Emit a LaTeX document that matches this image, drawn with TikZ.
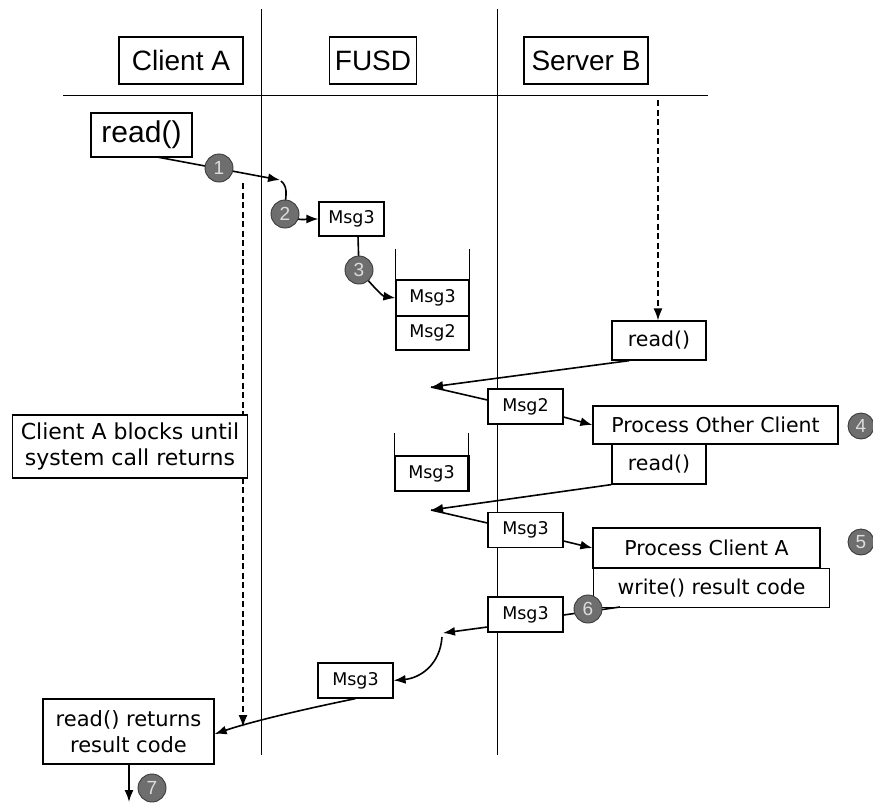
\documentclass[tikz,border=0pt]{standalone}
\usepackage{fontspec}
\setmainfont{DejaVu Sans}
\newfontfamily\hdfont{Liberation Sans}
\usetikzlibrary{arrows.meta,calc}
\definecolor{bubfill}{HTML}{6E6E6E}
\definecolor{bubline}{HTML}{3A3A3A}
\definecolor{bubtext}{HTML}{DDDDDD}
\begin{document}
\begin{tikzpicture}[x=1pt,y=-1pt,
  box/.style={draw, line width=1.2pt, fill=white, inner sep=0pt, align=center},
  hdbox/.style={box, font=\hdfont\fontsize{28}{30}\selectfont},
  lbox/.style={box, font=\fontsize{20.5}{25}\selectfont},
  mbox/.style={box, minimum width=75, minimum height=35, font=\fontsize{17.5}{20}\selectfont},
  bub/.style={circle, fill=bubfill, draw=bubline, line width=0.9pt, minimum size=28, inner sep=0pt,
              text=bubtext, font=\hdfont\fontsize{19}{19}\selectfont},
  conn/.style={line width=1.6pt},
  arr/.style={conn, -{Latex[length=12pt,width=9pt]}},
  darr/.style={line width=1.6pt, dash pattern=on 6pt off 3.5pt, -{Latex[length=12pt,width=9pt]}},
  life/.style={line width=0.9pt}]
\useasboundingbox (0,0) rectangle (873,804);

% lifelines and header line
\coordinate (l1t) at (261,9);  \coordinate (l1b) at (261,755);
\coordinate (l2t) at (497,9);  \coordinate (l2b) at (497,755);
\coordinate (hl) at (63,95);   \coordinate (hr) at (708,95);
\draw[life] (l1t) -- (l1b);
\draw[life] (l2t) -- (l2b);
\draw[life] (hl) -- (hr);

% headers
\node[hdbox, minimum width=124, minimum height=47] (hA) at (181,60.5) {Client A};
\node[hdbox, minimum width=87, minimum height=47] (hF) at (373,60.5) {FUSD};
\node[hdbox, minimum width=124, minimum height=47] (hB) at (586,60.5) {Server B};

% client read
\node[hdbox, minimum width=101, minimum height=44, font=\hdfont\fontsize{30}{30}\selectfont] (rA) at (141.5,135) {read()};

% dashed blocking arrow
\coordinate (dA1) at (243,183);
\coordinate (dA2) at (243,727);
\draw[darr] (dA1) -- (dA2);

% Client A blocks box
\node[lbox, minimum width=235, minimum height=63, font=\fontsize{22}{26}\selectfont] (blk) at (130,446.5) {Client A blocks until\\system call returns};

% step 1 and 2
\coordinate (p1) at (157,157);
\coordinate (c1) at (280,180);
\node[mbox, minimum width=65, minimum height=34] (m1) at (351.5,219) {Msg3};
\draw[arr] (p1) -- (c1);
\coordinate (b2c) at (285,214);
\draw[arr] (281,181) .. controls (290,188) and (284,200) .. (b2c) .. controls (298,222) and (308,219) .. (m1.west);

% step 3: queue
\node[mbox, minimum width=73, minimum height=36] (q1a) at (432.5,298) {Msg3};
\node[mbox, minimum width=73, minimum height=34] (q1b) at (432.5,333) {Msg2};
\draw[box] (q1a.north west) -- ++(0,-30);
\draw[box] (q1a.north east) -- ++(0,-30);
\coordinate (b3c) at (359,270);
\draw[conn] (358,236) -- (b3c);
\draw[arr] (b3c) .. controls (372,285) and (382,296) .. (q1a.west);

% server read 1
\node[lbox, minimum width=94, minimum height=39] (rB1) at (659,340.5) {read()};
\coordinate (dB1) at (658,100);
\draw[darr] (dB1) -- (rB1.north -| dB1);

% Msg2 reflection
\coordinate (t1) at (431,387);
\node[mbox] (mm2) at (525.5,406.5) {Msg2};
\draw[arr] (rB1.south west) ++(18,0) -- (t1);
\draw[conn] (mm2.west |- 0,400) -- (t1);
\node[lbox, minimum width=245, minimum height=38] (pOC) at (715.5,425) {Process Other Client};
\draw[arr] (mm2.east |- 0,417) -- (pOC.west);

% queue 2
\node[mbox, minimum width=73, minimum height=35] (q2a) at (431.5,473.5) {Msg3};
\draw[box] (q2a.north west) -- ++(0,-22);
\draw[box] (q2a.north east) -- ++(0,-22);
\draw[line width=2pt] (q2a.north east) -- (q2a.south east);

% server read 2
\node[lbox, minimum width=94, minimum height=40] (rB2) at (659,464) {read()};
\coordinate (t2) at (431,510);
\node[mbox] (mm3) at (525.5,530) {Msg3};
\draw[arr] (rB2.south west) -- (t2);
\draw[conn] (mm3.west |- 0,523) -- (t2);
\node[lbox, minimum width=227, minimum height=40] (pCA) at (706.5,548) {Process Client A};
\draw[arr] (mm3.east |- 0,541) -- (pCA.west);
\node[lbox, minimum width=236, minimum height=39, anchor=north west] (wrc) at (593,568) {write() result code};

% step 6
\node[mbox] (mm4) at (525.5,614.5) {Msg3};
\coordinate (w6) at (620,607);
\draw[conn] (w6) -- (mm4.east |- 0,615);
\coordinate (t3) at (443,633);
\draw[arr] (mm4.west |- 0,627) -- (t3);
\node[mbox] (mm5) at (355.5,680.5) {Msg3};
\draw[arr] (442,637) .. controls (440,665) and (420,678) .. (mm5.east);

% return
\node[lbox, minimum width=171, minimum height=65, font=\fontsize{21}{26}\selectfont] (ret) at (128.5,731.5) {read() returns\\result code};
\draw[arr] (mm5.south) .. controls (300,710) and (250,722) .. (ret.east |- 0,734);
\coordinate (e7) at (129,802);
\draw[arr] (ret.south -| e7) -- (e7);

% bubbles
\node[bub] (b1) at (219,168) {1};
\node[bub] (b2) at (b2c) {2};
\node[bub] (b3) at (b3c) {3};
\node[bub, minimum size=26] (b4) at (861,426) {4};
\node[bub, minimum size=26] (b5) at (861,542) {5};
\node[bub] (b6) at (588,609) {6};
\node[bub] (b7) at (152,788) {7};
\end{tikzpicture}
\end{document}
